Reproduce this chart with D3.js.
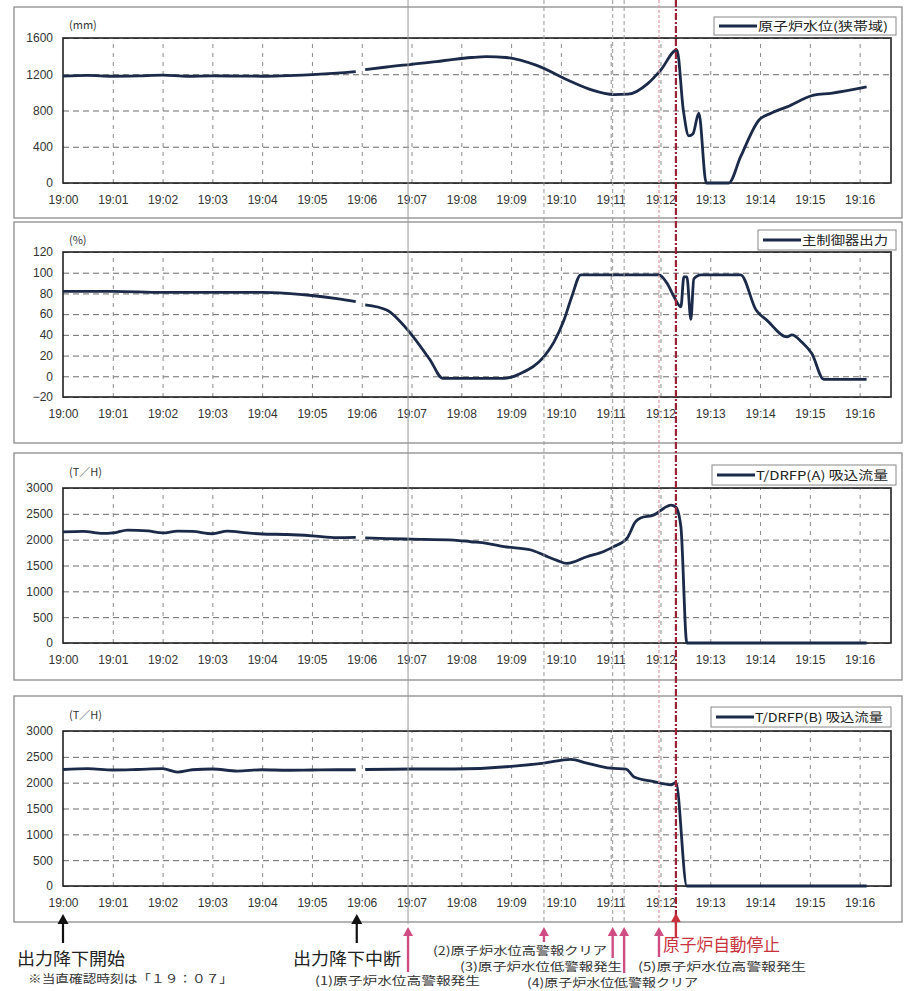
<!DOCTYPE html>
<html lang="ja">

<head>
    <meta charset="UTF-8">
    <script src="https://d3js.org/d3.v7.min.js"></script>
    <title>原子炉自動停止 トレンド</title>
    <style>
        body { margin: 0; background: #fff; }
        svg { display: block; }
        .num { font-family: "Liberation Sans", Arial, sans-serif; }
        .jp { font-family: "Noto Sans CJK JP", sans-serif; }
    </style>
</head>

<body>
    <script>
        var w = 908,
            h = 991;

        // 時刻は 19:00 からの経過分
        var minuteLabels = ["19:00", "19:01", "19:02", "19:03", "19:04", "19:05", "19:06", "19:07", "19:08",
            "19:09", "19:10", "19:11", "19:12", "19:13", "19:14", "19:15", "19:16"];

        // 原子炉水位(狭帯域) mm
        var levelT = [0, 0.5, 1, 1.5, 2, 2.5, 3, 3.5, 4, 4.5, 5, 5.5, 5.88, 5.98, 6.07, 6.5, 7, 7.5, 7.85, 8.2,
            8.5, 8.9, 9.5, 10.2, 10.6, 11.06, 11.35, 11.75, 12.01, 12.33, 12.46, 12.57, 12.65, 12.77, 12.92,
            13.37, 13.61, 13.98, 14.22, 14.54, 15.08, 15.42, 16.14];
        var levelV = [1180, 1188, 1178, 1182, 1190, 1178, 1182, 1180, 1178, 1185, 1195, 1212, 1230, null, 1250,
            1280, 1310, 1340, 1365, 1385, 1395, 1385, 1300, 1120, 1030, 975, 980, 1100, 1250, 1470, 800, 520,
            540, 770, 0, 0, 290, 695, 770, 840, 970, 990, 1060];

        // 主制御器出力 %
        var outT = [0, 1, 2, 3, 4, 4.5, 5, 5.5, 5.88, 5.98, 6.07, 6.5, 6.97, 7.37, 7.63, 8, 8.5, 8.86, 9.2, 9.66,
            9.86, 10.06, 10.22, 10.4, 11.97, 12.13, 12.27, 12.41, 12.47, 12.53, 12.61, 12.67, 12.81, 13.61,
            13.92, 14.14, 14.54, 14.64, 14.84, 15.04, 15.28, 16.14];
        var outV = [82, 82, 81, 81, 81, 80, 78, 75, 72, null, 69, 64, 42, 16, -2, -2, -2, -2, 3, 19,
            33, 54, 77, 98, 98, 90, 77, 67, 96, 96, 55, 94, 98, 98, 64, 54, 38, 40, 33, 22, -3, -3];

        // T/DRFP(A) 吸込流量 T/H
        var flowAT = [0, 0.4, 0.8, 1.0, 1.3, 1.7, 2.0, 2.3, 2.6, 3.0, 3.3, 3.7, 4.0, 4.5, 5.0, 5.5, 5.88, 5.98,
            6.07, 6.5, 7.0, 7.85, 8.19, 8.51, 8.86, 9.4, 9.66, 9.92, 10.12, 10.52, 10.86, 11.06, 11.33, 11.5,
            11.6, 11.87, 12.07, 12.21, 12.31, 12.41, 12.53, 16.14];
        var flowAV = [2150, 2160, 2120, 2130, 2185, 2170, 2130, 2165, 2160, 2115, 2165, 2130, 2110, 2100, 2075,
            2040, 2045, null, 2035, 2020, 2010, 1990, 1960, 1930, 1865, 1800, 1700, 1600, 1540, 1670, 1770,
            1865, 2030, 2350, 2420, 2480, 2610, 2670, 2630, 2250, 0, 0];

        // T/DRFP(B) 吸込流量 T/H
        var flowBT = [0, 0.5, 1.0, 1.5, 2.0, 2.3, 2.6, 3.0, 3.5, 4.0, 4.5, 5.0, 5.5, 5.88, 5.98, 6.07, 7.0, 7.85,
            9.06, 9.66, 10.2, 10.52, 11.0, 11.31, 11.47, 11.87, 12.21, 12.31, 12.53, 16.14];
        var flowBV = [2255, 2270, 2245, 2255, 2270, 2205, 2250, 2265, 2225, 2250, 2240, 2245, 2250, 2250, null,
            2255, 2265, 2265, 2320, 2380, 2450, 2380, 2280, 2260, 2110, 2020, 1960, 2000, 0, 0];

        // イベント時刻 (1)〜(5) と 原子炉自動停止
        var eventT = [6.93, 9.66, 11.04, 11.27, 11.97, 12.31];
        var eventLabels = ["(1)原子炉水位高警報発生", "(2)原子炉水位高警報クリア", "(3)原子炉水位低警報発生",
            "(4)原子炉水位低警報クリア", "(5)原子炉水位高警報発生", "原子炉自動停止"];

        var panels = [{
            box: [14, 7, 888, 211], top: 38, bottom: 183,
            yDomain: [0, 1600], yTicks: [0, 400, 800, 1200, 1600],
            unit: "(mm)", unitY: 29, legend: [714, 17, 182, 18], name: "原子炉水位(狭帯域)",
            t: levelT, v: levelV
        }, {
            box: [14, 222, 888, 221], top: 252, bottom: 397,
            yDomain: [-20, 120], yTicks: [-20, 0, 20, 40, 60, 80, 100, 120],
            unit: "(%)", unitY: 244, legend: [758, 230, 138, 20], name: "主制御器出力",
            t: outT, v: outV
        }, {
            box: [14, 453, 888, 227], top: 488, bottom: 643,
            yDomain: [0, 3000], yTicks: [0, 500, 1000, 1500, 2000, 2500, 3000],
            unit: "(T／H)", unitY: 476, legend: [712, 465, 184, 20], name: "T/DRFP(A) 吸込流量",
            t: flowAT, v: flowAV
        }, {
            box: [14, 696, 888, 226], top: 731, bottom: 886,
            yDomain: [0, 3000], yTicks: [0, 500, 1000, 1500, 2000, 2500, 3000],
            unit: "(T／H)", unitY: 719, legend: [711, 707, 180, 20], name: "T/DRFP(B) 吸込流量",
            t: flowBT, v: flowBV
        }];

        var lineColor = "#1b2a48";
        var svg = d3.select("body").append("svg").attr("width", w).attr("height", h);
        var x = d3.scaleLinear().domain([0, 16.63]).range([63, 891]);
        var pw = x.range()[1] - x.range()[0];

        panels.forEach(drawPanel);
        drawEvents();
        drawNotes();

        function drawPanel(p) {
            var g = svg.append("g");
            var y = d3.scaleLinear().domain(p.yDomain).range([p.bottom, p.top]);
            var ph = p.bottom - p.top;

            g.append("rect")
                .attr("x", p.box[0]).attr("y", p.box[1])
                .attr("width", p.box[2]).attr("height", p.box[3])
                .attr("fill", "#fff").attr("stroke", "#8c8c8c").attr("stroke-width", 1.3);

            // 横グリッド
            var gy = g.append("g").attr("transform", "translate(" + x.range()[0] + ",0)")
                .call(d3.axisLeft(y).tickValues(p.yTicks).tickSize(-pw).tickFormat(""));
            gy.select(".domain").remove();
            gy.selectAll("line").attr("stroke", "#6a6a6a").attr("stroke-dasharray", "6,4");

            // 縦グリッド
            var gx = g.append("g").attr("transform", "translate(0," + p.bottom + ")")
                .call(d3.axisBottom(x).tickValues(d3.range(1, 17)).tickSize(-ph).tickFormat(""));
            gx.select(".domain").remove();
            gx.selectAll("line").attr("stroke", "#8a8a8a").attr("stroke-dasharray", "4,5");

            // 目盛ラベル
            var ly = g.append("g").attr("class", "num").attr("transform", "translate(" + x.range()[0] + ",0)")
                .call(d3.axisLeft(y).tickValues(p.yTicks).tickSize(0).tickPadding(10).tickFormat(d3.format("d")));
            ly.select(".domain").remove();
            ly.selectAll("text").attr("font-size", 12).attr("fill", "#333").attr("font-family", null);

            var lx = g.append("g").attr("class", "num").attr("transform", "translate(0," + p.bottom + ")")
                .call(d3.axisBottom(x).tickValues(d3.range(0, 17)).tickSize(0).tickPadding(12)
                    .tickFormat(function(d) { return minuteLabels[d]; }));
            lx.select(".domain").remove();
            lx.selectAll("text").attr("font-size", 12).attr("fill", "#333").attr("font-family", null);

            g.append("rect")
                .attr("x", x.range()[0]).attr("y", p.top)
                .attr("width", pw).attr("height", ph)
                .attr("fill", "none").attr("stroke", "#222").attr("stroke-width", 1.6);

            var data = p.t.map(function(t, i) { return { t: t, v: p.v[i] }; });
            var line = d3.line()
                .defined(function(d) { return d.v !== null; })
                .x(function(d) { return x(d.t); })
                .y(function(d) { return y(d.v); })
                .curve(d3.curveMonotoneX);

            g.append("path").datum(data)
                .attr("d", line)
                .attr("fill", "none")
                .attr("stroke", lineColor)
                .attr("stroke-width", 2.8)
                .attr("stroke-linejoin", "round");

            g.append("text").attr("class", "jp")
                .attr("x", 69).attr("y", p.unitY)
                .attr("font-size", 11).attr("fill", "#333")
                .text(p.unit);

            // 凡例
            var L = p.legend;
            g.append("rect").attr("x", L[0]).attr("y", L[1]).attr("width", L[2]).attr("height", L[3])
                .attr("fill", "#fff").attr("stroke", "#888");
            g.append("line").attr("x1", L[0] + 5).attr("x2", L[0] + 43)
                .attr("y1", L[1] + L[3] / 2).attr("y2", L[1] + L[3] / 2)
                .attr("stroke", lineColor).attr("stroke-width", 3);
            g.append("text").attr("class", "jp")
                .attr("x", L[0] + 44).attr("y", L[1] + L[3] / 2 + 4.5)
                .attr("font-size", 12).attr("fill", "#222")
                .attr("textLength", L[2] - 52).attr("lengthAdjust", "spacingAndGlyphs")
                .text(p.name);
        }

        function drawEvents() {
            var styles = [
                { c: "#9a9a9a", w: 1, dash: null },
                { c: "#9a9a9a", w: 1, dash: "4,3" },
                { c: "#9a9a9a", w: 1, dash: "4,3" },
                { c: "#9a9a9a", w: 1, dash: "4,3" },
                { c: "#d99aa6", w: 1.2, dash: "3,2" },
                { c: "#9c2236", w: 2.2, dash: "7,2,2,2" }
            ];
            svg.selectAll(".ev").data(eventT).enter().append("line")
                .attr("class", "ev")
                .attr("x1", function(d) { return x(d); })
                .attr("x2", function(d) { return x(d); })
                .attr("y1", 0).attr("y2", 924)
                .attr("stroke", function(d, i) { return styles[i].c; })
                .attr("stroke-width", function(d, i) { return styles[i].w; })
                .attr("stroke-dasharray", function(d, i) { return styles[i].dash; });
        }

        function arrow(xPos, yTip, yTail, color, sw, head) {
            svg.append("line")
                .attr("x1", xPos).attr("x2", xPos)
                .attr("y1", yTip + head).attr("y2", yTail)
                .attr("stroke", color).attr("stroke-width", sw);
            svg.append("path")
                .attr("d", "M" + xPos + "," + yTip + "l" + (-head * 0.55) + "," + head + "h" + (head * 1.1) + "z")
                .attr("fill", color);
        }

        function drawNotes() {
            var pink = "#cf4d82",
                red = "#c8323c";

            arrow(x(0), 914, 943, "#111", 2.2, 10);
            arrow(x(5.9), 914, 943, "#111", 2.2, 10);

            var tails = [972, 942, 958, 973, 957];
            for (var i = 0; i < 5; i++) {
                arrow(x(eventT[i]), 927, tails[i], pink, 2.4, 9);
            }
            arrow(x(eventT[5]), 913, 937, red, 2.4, 9);

            var notes = [
                { s: "出力降下開始", x: 17, y: 965, f: 17, len: 108, c: "#222" },
                { s: "※当直確認時刻は「１９：０７」", x: 28, y: 983, f: 11, len: 205, c: "#333" },
                { s: "出力降下中断", x: 293, y: 965, f: 17, len: 108, c: "#222" },
                { s: eventLabels[0], x: 315, y: 985, f: 11.5, len: 165, c: "#333" },
                { s: eventLabels[1], x: 433, y: 955, f: 11.5, len: 174, c: "#333" },
                { s: eventLabels[2], x: 460, y: 971, f: 11.5, len: 162, c: "#333" },
                { s: eventLabels[3], x: 527, y: 987, f: 11.5, len: 171, c: "#333" },
                { s: eventLabels[4], x: 638, y: 971, f: 11.5, len: 168, c: "#333" },
                { s: eventLabels[5], x: 663, y: 951, f: 17, len: 117, c: red }
            ];
            svg.selectAll(".note").data(notes).enter().append("text")
                .attr("class", "note jp")
                .attr("x", function(d) { return d.x; })
                .attr("y", function(d) { return d.y; })
                .attr("font-size", function(d) { return d.f; })
                .attr("fill", function(d) { return d.c; })
                .attr("textLength", function(d) { return d.len; })
                .attr("lengthAdjust", "spacingAndGlyphs")
                .text(function(d) { return d.s; });
        }
    </script>
</body>

</html>
